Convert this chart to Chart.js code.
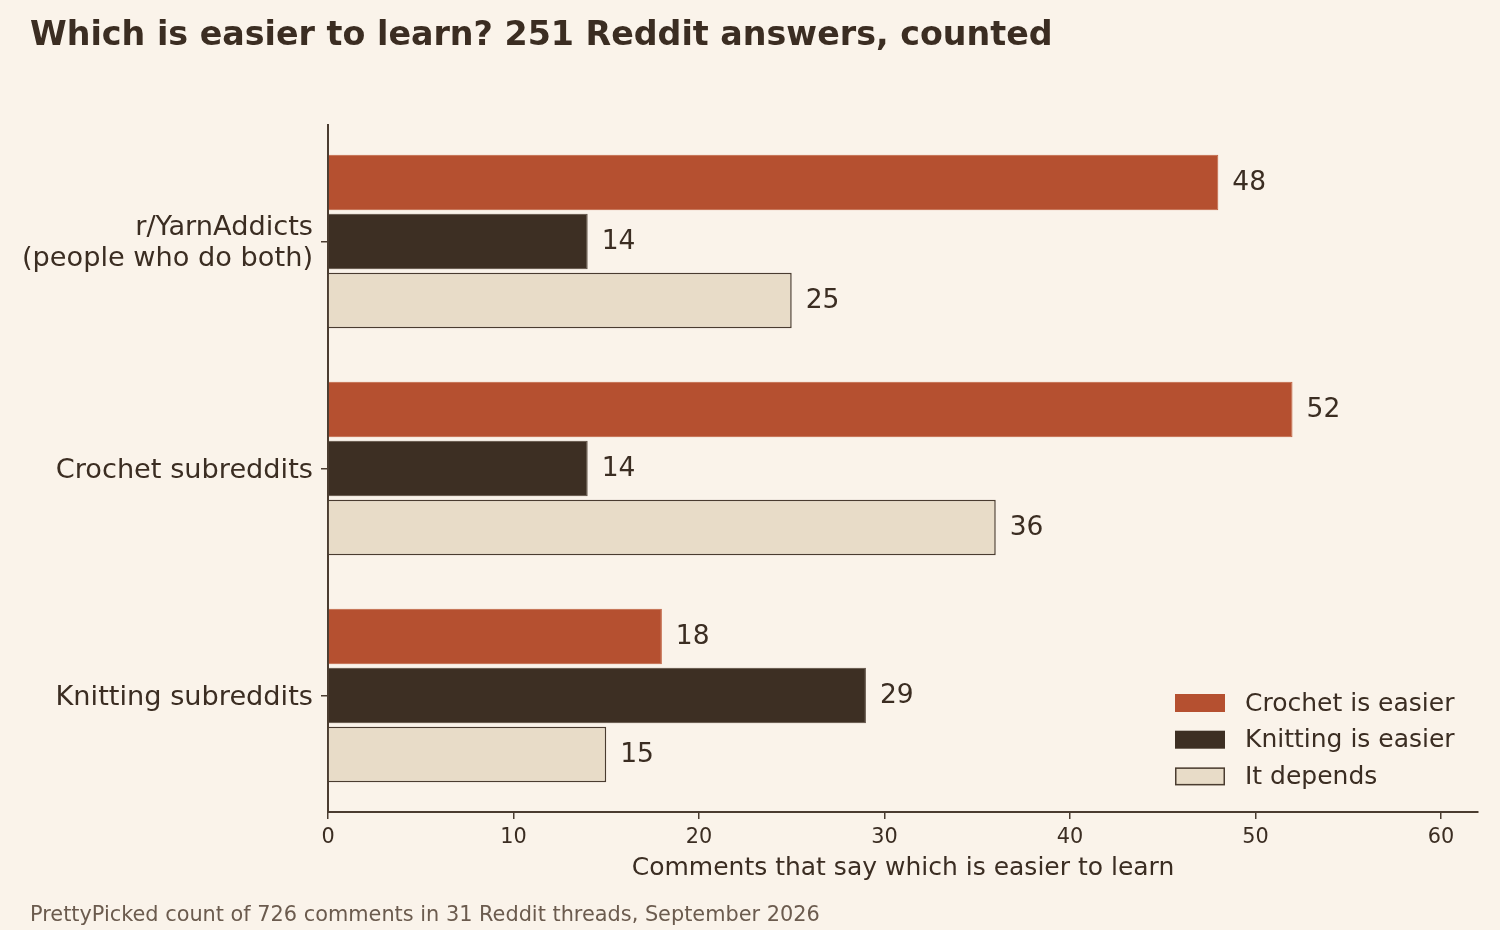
<!DOCTYPE html>
<html>
<head>
<meta charset="utf-8">
<title>Which is easier to learn?</title>
<script src="https://cdn.jsdelivr.net/npm/chart.js@4.4.1/dist/chart.umd.min.js"></script>
<style>
  html, body { margin: 0; padding: 0; background: #FAF3EA; }
  canvas { display: block; }
</style>
</head>
<body>
<canvas id="chart" width="1500" height="930"></canvas>
<script>
// Dados
const categories = [['r/YarnAddicts', '(people who do both)'], 'Crochet subreddits', 'Knitting subreddits'];
const seriesLabels = ['Crochet is easier', 'Knitting is easier', 'It depends'];
const crochetEasier = [48, 52, 18];
const knittingEasier = [14, 14, 29];
const itDepends = [25, 36, 15];

const FONT = "'DejaVu Sans', sans-serif";
const INK = '#3B2D22';
const EDGE = '#4A3C30';
const MUTED = '#6B5B4E';
const COLORS = ['#B55030', '#3D2F23', '#E8DCC8'];

// Título, rodapé, título do eixo, rótulos de valor e legenda.
const decorPlugin = {
  id: 'decor',
  afterDatasetsDraw(chart) {
    const ctx = chart.ctx;
    ctx.save();
    ctx.fillStyle = INK;
    ctx.font = `26.5px ${FONT}`;
    ctx.textAlign = 'left';
    ctx.textBaseline = 'middle';
    chart.data.datasets.forEach((ds, i) => {
      chart.getDatasetMeta(i).data.forEach((bar, j) => {
        ctx.fillText(String(ds.data[j].x), bar.x + 14, bar.y + 1);
      });
    });
    ctx.restore();
  },
  afterDraw(chart) {
    const ctx = chart.ctx;
    const area = chart.chartArea;
    ctx.save();
    ctx.textAlign = 'left';
    ctx.textBaseline = 'alphabetic';

    ctx.fillStyle = INK;
    ctx.font = `bold 33.3px ${FONT}`;
    ctx.fillText('Which is easier to learn? 251 Reddit answers, counted', 30, 45);

    ctx.fillStyle = MUTED;
    ctx.font = `20.85px ${FONT}`;
    ctx.fillText('PrettyPicked count of 726 comments in 31 Reddit threads, September 2026', 30, 921);

    ctx.fillStyle = INK;
    ctx.font = `25px ${FONT}`;
    ctx.textAlign = 'center';
    ctx.fillText('Comments that say which is easier to learn', (area.left + area.right) / 2, 875);

    // Legenda no canto inferior direito
    ctx.textAlign = 'left';
    ctx.textBaseline = 'middle';
    chart.data.datasets.forEach((ds, i) => {
      const y = 694 + i * 36.7;
      ctx.fillStyle = ds.backgroundColor;
      ctx.fillRect(1175, y, 50, 18);
      if (ds.legendEdge) {
        ctx.strokeStyle = EDGE;
        ctx.lineWidth = 1.5;
        ctx.strokeRect(1175.75, y + 0.75, 48.5, 16.5);
      }
      ctx.fillStyle = INK;
      ctx.font = `25px ${FONT}`;
      ctx.fillText(ds.label, 1245, y + 10);
    });
    ctx.restore();
  }
};

const toPoints = values => values.map((v, i) => ({ x: v, y: i }));

const datasets = [
  { label: seriesLabels[0], data: toPoints(crochetEasier), backgroundColor: COLORS[0], borderColor: '#C0603F', borderWidth: 1 },
  { label: seriesLabels[1], data: toPoints(knittingEasier), backgroundColor: COLORS[1], borderColor: '#54453A', borderWidth: 1 },
  { label: seriesLabels[2], data: toPoints(itDepends), backgroundColor: COLORS[2], borderColor: EDGE, borderWidth: 1.5, legendEdge: true }
].map(ds => ({ ...ds, categoryPercentage: 0.78, barPercentage: 0.94, borderSkipped: 'start' }));

new Chart(document.getElementById('chart'), {
  type: 'bar',
  data: { datasets },
  options: {
    indexAxis: 'y',
    responsive: false,
    animation: false,
    layout: { padding: { top: 125, right: 22, left: 0, bottom: 58 } },
    plugins: {
      legend: { display: false },
      tooltip: { enabled: false }
    },
    scales: {
      x: {
        type: 'linear',
        min: 0,
        max: 62,
        afterFit(scale) { scale.height = 60; },
        grid: { drawOnChartArea: false, drawTicks: true, tickLength: 7, color: EDGE, lineWidth: 1.5 },
        border: { display: true, color: EDGE, width: 2 },
        ticks: { stepSize: 10, includeBounds: false, color: INK, padding: 6, font: { family: FONT, size: 20.8 } }
      },
      y: {
        type: 'linear',
        reverse: true,
        offset: false,
        min: -0.513,
        max: 2.513,
        afterFit(scale) { scale.width = 328; },
        afterBuildTicks(scale) { scale.ticks = categories.map((_, i) => ({ value: i })); },
        grid: { drawOnChartArea: false, drawTicks: true, tickLength: 7, offset: false, color: EDGE, lineWidth: 1.5 },
        border: { display: true, color: EDGE, width: 2 },
        ticks: {
          color: INK,
          padding: 8,
          labelOffset: 2,
          autoSkip: false,
          font: { family: FONT, size: 27.2, lineHeight: 1.11 },
          callback: value => categories[value]
        }
      }
    }
  },
  plugins: [decorPlugin]
});
</script>
</body>
</html>
